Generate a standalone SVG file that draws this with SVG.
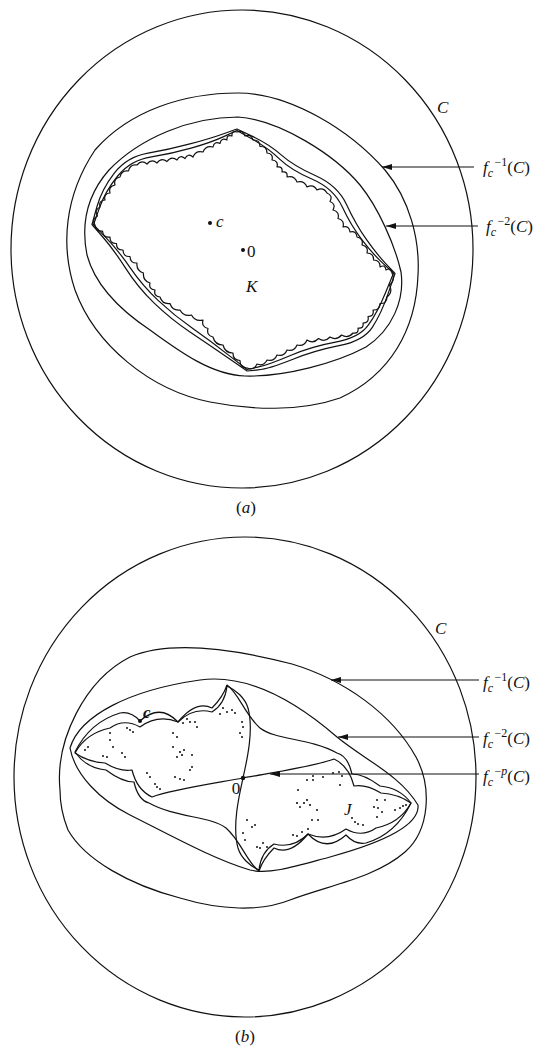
<svg xmlns="http://www.w3.org/2000/svg" width="533" height="1048" viewBox="0 0 533 1048">
<style>
.ln{fill:none;stroke:#111;stroke-width:1.2;stroke-linejoin:round;stroke-linecap:round}
.ar{fill:none;stroke:#111;stroke-width:1.2}
.t{font-family:"Liberation Serif","Times New Roman",serif;font-size:17px;fill:#111}
.i{font-style:italic}
.dot{fill:#111}
</style>
<defs>
<marker id="ah" viewBox="0 0 10 6" refX="10" refY="3" markerWidth="10" markerHeight="6" markerUnits="userSpaceOnUse" orient="auto"><path d="M0,0 L10,3 L0,6 z" fill="#111"/></marker>
</defs>
<rect width="533" height="1048" fill="#fff"/>

<!-- Panel (a) -->
<g id="a-C">
<ellipse class="ln" cx="242" cy="249" rx="231" ry="239"/>
<text class="t i" x="437" y="113" font-size="16">C</text>
</g>
<g id="a-f1">
<path class="ln" d="M238,93 C290,93 350,130 385,170 C410,200 420,240 418,275 C416,330 390,375 340,398 C300,412 250,410 210,402 C150,390 95,345 75,290 C60,245 65,195 95,150 C130,110 185,93 238,93 Z"/>
<text class="t" x="483" y="173"><tspan class="i">f</tspan><tspan class="i" font-size="12" dy="4">c</tspan><tspan font-size="12" dx="1.5" dy="-11">−1</tspan><tspan dy="7">(</tspan><tspan class="i">C</tspan>)</text>
</g>
<g id="a-f2">
<path class="ln" d="M238,117 C280,120 335,155 360,185 C378,207 395,245 401,272 C405,300 392,330 366,347 C336,363 285,377 245,376 C212,375 180,352 150,330 C120,310 95,285 87,255 C81,225 87,195 109,170 C140,138 190,117 238,117 Z"/>
<text class="t" x="486" y="232"><tspan class="i">f</tspan><tspan class="i" font-size="12" dy="4">c</tspan><tspan font-size="12" dx="1.5" dy="-11">−2</tspan><tspan dy="7">(</tspan><tspan class="i">C</tspan>)</text>
</g>
<g id="a-f3">
<path class="ln" d="M236.85,129 L253.03,136.65 Q269.2,144.3 281.45,155.1 Q293.7,165.9 315.75,175.8 Q337.8,185.7 346.75,204.9 Q355.7,224.1 365.85,238.65 Q376,253.2 385.5,263.35 L395,273.5 L388.1,293.65 Q381.2,313.8 372.3,327.3 Q363.4,340.8 338.95,345.7 Q314.5,350.6 291.7,359.7 Q268.9,368.8 258,369.9 L247.1,371 L228.6,358.25 Q210.1,345.5 190.35,332.25 Q170.6,319 154.2,303.15 Q137.75,287.3 125.9,268.65 Q114,250 103,237.25 L92,224.5 L96.85,207 Q101.7,189.5 114.3,173.2 Q126.9,156.9 148.1,153.2 Q169.3,149.5 189.9,143.95 Q210.5,138.4 223.7,133.7 L236.85,129 Z"/>
</g>
<g id="a-f4">
<path class="ln" d="M236.9,130.5 L252.55,139.3 Q268.2,148.1 279.65,159.1 Q291.1,170.1 312.35,179.3 Q333.6,188.5 342.2,206.85 Q350.8,225.2 361.4,239.15 Q372,253.1 382.75,263.15 L393.5,273.2 L385.5,292.65 Q377.5,312.1 368.45,324.95 Q359.4,337.8 335.5,342.15 Q311.6,346.5 289.85,355.7 Q268.1,364.9 257.6,367.2 L247.1,369.5 L229.25,355.6 Q211.4,341.7 192.8,328.6 Q174.2,315.5 158.35,300.6 Q142.5,285.7 130.25,267.85 Q118,250 105.75,237.35 L93.5,224.7 L99.45,207.85 Q105.4,191 118.1,175.5 Q130.8,160 151.55,156.8 Q172.3,153.6 191.95,147.9 Q211.6,142.2 224.25,136.35 L236.9,130.5 Z"/>
</g>
<g id="a-K">
<path class="ln" d="M237,132 q6.2,-2.5 8,4 q6.2,-2.5 8,4 q6.9,-0.4 7,6.5 q6.9,-0.4 7,6.5 q6.6,0.6 5,7 q6.6,0.6 5,7 q6,-1 5,5 q6,-1 5,5 q7.2,-2 10,5 q7.2,-2 10,5 q6.4,-3.3 10,3 q6.4,-3.3 10,3 q6.2,2.6 3,8.5 q6.2,2.6 3,8.5 q6.8,1.7 5,8.5 q6.8,1.7 5,8.5 q6.4,-1.6 7,5 q6.4,-1.6 7,5 q6.7,1.35 5,8 q6.7,1.35 5,8 q6.9,0.1 6.5,7 q6.9,0.1 6.5,7 q5.25,-3 6,3 q5.25,-3 6,3
q3.65,7 -2.5,12 q3.65,7 -2.5,12 q-0.1,6.9 -7,6.5 q-0.1,6.9 -7,6.5 q1.46,6.3 -5,6.5 q1.46,6.3 -5,6.5 q1,6 -5,5 q1,6 -5,5 q-4.9,5.9 -11.5,2 q-4.9,5.9 -11.5,2 q-5.1,5.7 -11.5,1.5 q-5.1,5.7 -11.5,1.5 q-2.8,7 -10,5 q-2.8,7 -10,5 q-2.8,7 -10,5 q-2.8,7 -10,5 q-3.1,6.7 -10,4 q-3.1,6.7 -10,4
q-7.2,-0.3 -7,-7.5 q-7.2,-0.3 -7,-7.5 q-8.1,-0.1 -10,-8 q-8.1,-0.1 -10,-8 q-6.8,-1.7 -5,-8.5 q-6.8,-1.7 -5,-8.5 q-7.7,2.1 -11.5,-5 q-7.7,2.1 -11.5,-5 q-7.7,0.9 -10,-6.5 q-7.7,0.9 -10,-6.5 q-6.6,-0.6 -5,-7 q-6.6,-0.6 -5,-7 q-7.4,-2.3 -6.5,-10 q-7.4,-2.3 -6.5,-10 q-6.9,0.4 -7,-6.5 q-6.9,0.4 -7,-6.5 q-6.8,0.3 -6.5,-6.5 q-6.8,0.3 -6.5,-6.5 q-6.9,0.9 -7.5,-6 q-6.9,0.9 -7.5,-6
q-3.6,-5.8 2.5,-9 q-3.6,-5.8 2.5,-9 q-1.6,-6.4 5,-7 q-1.6,-6.4 5,-7 q-1.7,-6.65 5,-8 q-1.7,-6.65 5,-8 q1.4,-7.1 8.5,-6 q1.4,-7.1 8.5,-6 q4.5,-5.5 10,-1 q4.5,-5.5 10,-1 q4.3,-5.7 10,-1.5 q4.3,-5.7 10,-1.5 q3.1,-5.7 8,-1.5 q3.1,-5.7 8,-1.5 q2.8,-7 10,-5 q2.8,-7 10,-5 q1.3,-6.2 7,-3.5 q1.3,-6.2 7,-3.5 q-0.6,-5.9 5,-4 q-0.6,-5.9 5,-4 Z"/>
<text class="t i" x="246" y="292" font-size="15">K</text>
</g>
<g id="a-c">
<circle class="dot" cx="210" cy="223" r="2"/>
<text class="t i" x="216" y="227" font-size="13">c</text>
</g>
<g id="a-0">
<circle class="dot" cx="243" cy="250" r="2"/>
<text class="t" x="247" y="257" font-size="15">0</text>
</g>
<g id="a-caption"><text class="t" x="246" y="513" font-size="14" text-anchor="middle">(<tspan class="i">a</tspan>)</text></g>

<!-- Panel (b) -->
<g id="b-C">
<ellipse class="ln" cx="245" cy="777" rx="231" ry="240"/>
<text class="t i" x="435" y="634" font-size="16">C</text>
</g>
<g id="b-f1">
<path class="ln" d="M60,790 C55,740 85,680 130,657 C170,640 230,648 292,664 C345,680 392,714 416,757 C432,787 430,830 405,852 C375,878 330,885 290,900 C260,912 220,910 180,898 C130,885 85,860 68,830 C62,815 60,800 60,790 Z"/>
<text class="t" x="483" y="688"><tspan class="i">f</tspan><tspan class="i" font-size="12" dy="4">c</tspan><tspan font-size="12" dx="1.5" dy="-11">−1</tspan><tspan dy="7">(</tspan><tspan class="i">C</tspan>)</text>
</g>
<g id="b-f2">
<path class="ln" d="M70,748 C80,715 130,690 200,680 C250,673 300,705 337,737 C365,760 400,775 418,805 C420,825 385,842 330,857 C300,865 270,875 250,870 C215,860 170,835 130,815 C100,800 75,775 70,748 Z"/>
<text class="t" x="483" y="744"><tspan class="i">f</tspan><tspan class="i" font-size="12" dy="4">c</tspan><tspan font-size="12" dx="1.5" dy="-11">−2</tspan><tspan dy="7">(</tspan><tspan class="i">C</tspan>)</text>
</g>
<g id="b-f3">
<path class="ln" d="M75,752 Q90,722 120,713 Q131,711 140,721 Q160,703 178,722 Q196,700 212,708 Q223,697 227,685 C238,692 245,715 260,728 C275,740 310,738 337,753 Q348,756 352,774 Q364,774 380,786 Q400,788 411,803 Q396,834 366,843 Q355,845 346,835 Q326,853 308,834 Q290,856 274,848 Q263,859 259,871 C248,864 241,841 226,828 C211,816 176,818 149,803 Q138,800 134,782 Q122,782 106,770 Q86,768 75,752 Z"/>
</g>
<g id="b-fp">
<path class="ln" d="M243,778 C247,760 254,730 248,708 C245,698 236,690 227,686 Q225,704 212,712 Q193,707 178,722 Q158,714 140,727 Q124,718 110,728 Q86,733 75,753 Q88,762 105,763 Q120,772 132,770 Q137,790 152,797 C170,790 210,784 243,778 Z"/>
<path class="ln" d="M243,778 C239,796 232,826 238,848 C241,858 250,866 259,870 Q261,852 274,844 Q293,849 308,834 Q328,842 346,829 Q362,838 376,828 Q400,823 411,803 Q398,794 381,793 Q366,784 354,786 Q349,766 334,759 C316,766 276,772 243,778 Z"/>
<text class="t" x="483" y="782"><tspan class="i">f</tspan><tspan class="i" font-size="12" dy="4">c</tspan><tspan font-size="12" dx="1.5" dy="-11">−<tspan class="i">p</tspan></tspan><tspan dy="7">(</tspan><tspan class="i">C</tspan>)</text>
</g>
<g id="b-J">
<g class="dot">
<circle cx="223" cy="708" r="1"/><circle cx="227" cy="712" r="1"/><circle cx="232" cy="710" r="1"/><circle cx="235" cy="713" r="1"/><circle cx="220" cy="714" r="1"/><circle cx="242" cy="722" r="1"/><circle cx="243" cy="727" r="1"/><circle cx="240" cy="733" r="1"/><circle cx="242" cy="737" r="1"/>
<circle cx="187" cy="719" r="1"/><circle cx="190" cy="722" r="1"/><circle cx="195" cy="722" r="1"/><circle cx="183" cy="723" r="1"/><circle cx="197" cy="727" r="1"/>
<circle cx="173" cy="733" r="1"/><circle cx="177" cy="737" r="1"/><circle cx="173" cy="747" r="1"/><circle cx="180" cy="752" r="1.1"/><circle cx="182" cy="755" r="1.1"/><circle cx="184" cy="750" r="1"/><circle cx="177" cy="757" r="1"/><circle cx="192" cy="755" r="1"/><circle cx="192" cy="767" r="1"/><circle cx="190" cy="770" r="1"/>
<circle cx="175" cy="777" r="1"/><circle cx="180" cy="779" r="1"/><circle cx="184" cy="780" r="1"/><circle cx="147" cy="773" r="1"/><circle cx="150" cy="777" r="1"/><circle cx="157" cy="787" r="1"/><circle cx="160" cy="789" r="1"/><circle cx="155" cy="784" r="1"/>
<circle cx="110" cy="733" r="1"/><circle cx="110" cy="740" r="1"/><circle cx="113" cy="747" r="1"/><circle cx="103" cy="756" r="1"/><circle cx="107" cy="757" r="1"/><circle cx="88" cy="747" r="1"/><circle cx="85" cy="750" r="1"/><circle cx="127" cy="728" r="1"/><circle cx="130" cy="730" r="1"/><circle cx="133" cy="732" r="1"/><circle cx="125" cy="757" r="1"/><circle cx="122" cy="753" r="1"/>
<circle cx="247" cy="820" r="1"/><circle cx="252" cy="827" r="1"/><circle cx="243" cy="833" r="1"/><circle cx="245" cy="840" r="1"/><circle cx="263" cy="843" r="1"/><circle cx="267" cy="847" r="1"/><circle cx="260" cy="848" r="1"/><circle cx="255" cy="825" r="1"/><circle cx="257" cy="847" r="1"/>
<circle cx="339" cy="772" r="1"/><circle cx="342" cy="776" r="1"/><circle cx="333" cy="773" r="1"/><circle cx="307" cy="780" r="1"/><circle cx="313" cy="780" r="1"/><circle cx="340" cy="785" r="1"/><circle cx="298" cy="790" r="1"/><circle cx="297" cy="803" r="1.1"/><circle cx="307" cy="800" r="1.1"/><circle cx="310" cy="805" r="1.1"/><circle cx="304" cy="803" r="1.1"/><circle cx="317" cy="810" r="1"/><circle cx="300" cy="807" r="1"/><circle cx="312" cy="820" r="1"/><circle cx="318" cy="820" r="1"/>
<circle cx="293" cy="835" r="1"/><circle cx="297" cy="836" r="1"/><circle cx="302" cy="832" r="1"/><circle cx="308" cy="829" r="1"/>
<circle cx="355" cy="822" r="1"/><circle cx="358" cy="824" r="1"/><circle cx="363" cy="825" r="1"/><circle cx="352" cy="818" r="1"/><circle cx="377" cy="800" r="1"/><circle cx="378" cy="808" r="1"/><circle cx="382" cy="812" r="1"/><circle cx="385" cy="800" r="1"/><circle cx="400" cy="808" r="1"/><circle cx="403" cy="806" r="1"/><circle cx="406" cy="805" r="1"/><circle cx="377" cy="817" r="1"/><circle cx="374" cy="807" r="1"/><circle cx="395" cy="810" r="1"/><circle cx="323" cy="777" r="1"/><circle cx="313" cy="776" r="1"/>
</g>
<text class="t i" x="344" y="815" font-size="15">J</text>
</g>
<g id="b-c">
<circle class="dot" cx="140" cy="721" r="2"/>
<text class="t i" x="143" y="718" font-size="14" font-weight="bold">c</text>
</g>
<g id="b-0">
<circle class="dot" cx="243" cy="778" r="2.2"/>
<text class="t" x="236" y="794" font-size="15" text-anchor="middle">0</text>
</g>
<g id="b-caption"><text class="t" x="245" y="1042" font-size="14" text-anchor="middle">(<tspan class="i">b</tspan>)</text></g>

<g id="connectors">
<line class="ar" x1="474" y1="167" x2="382" y2="167" marker-end="url(#ah)"/>
<line class="ar" x1="478" y1="226" x2="386" y2="226" marker-end="url(#ah)"/>
<line class="ar" x1="479" y1="680" x2="331" y2="680" marker-end="url(#ah)"/>
<line class="ar" x1="479" y1="737" x2="338" y2="737" marker-end="url(#ah)"/>
<line class="ar" x1="479" y1="774" x2="270" y2="774" stroke-width="1.7" marker-end="url(#ah)"/>
</g>
</svg>
